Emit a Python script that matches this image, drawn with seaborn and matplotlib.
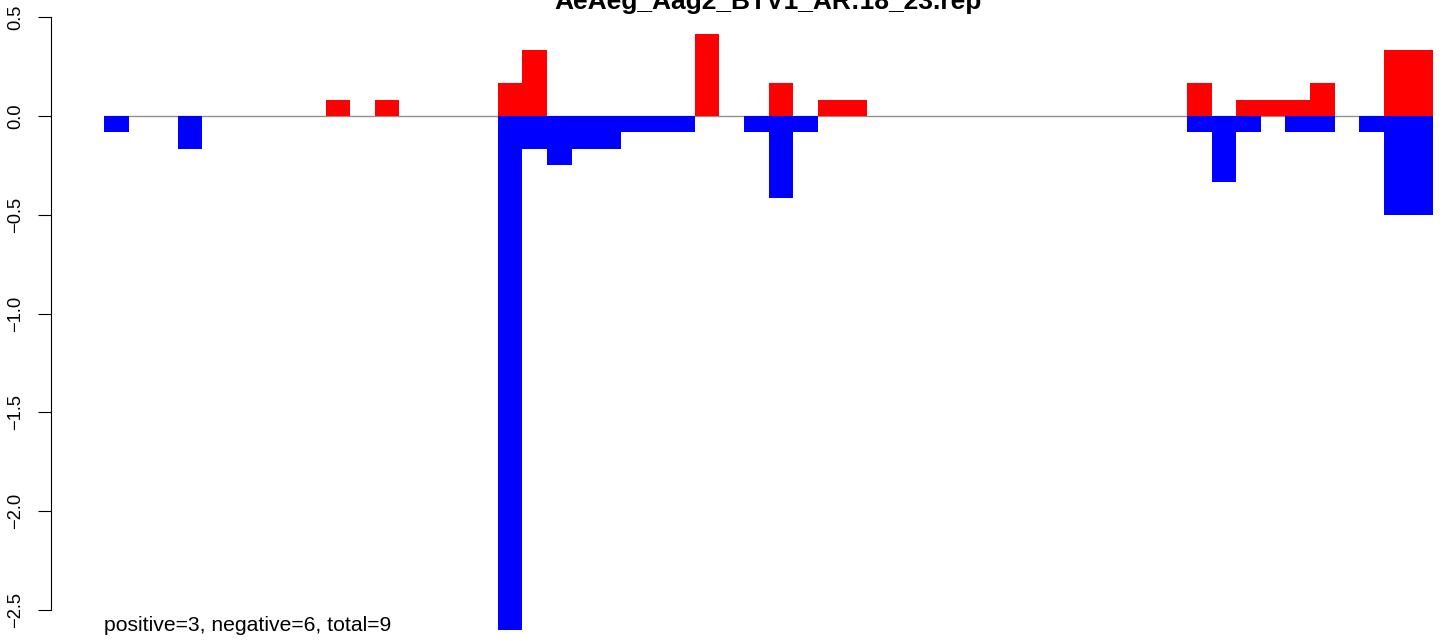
import matplotlib
matplotlib.use("Agg")
import matplotlib.pyplot as plt
import seaborn as sns
import numpy as np
import pandas as pd

# ---- data ----
n_pos = 54
positions = list(range(n_pos))
pos_idx = [9, 11, 16, 17, 24, 27, 29, 30, 44, 46, 47, 48, 49, 52, 53]
pos_val = [0.083, 0.083, 0.167, 0.333, 0.417, 0.167, 0.083, 0.083,
           0.167, 0.083, 0.083, 0.083, 0.167, 0.333, 0.333]
neg_idx = [0, 3, 16, 17, 18, 19, 20, 21, 22, 23, 26, 27, 28,
           44, 45, 46, 48, 49, 51, 52, 53]
neg_val = [-0.083, -0.167, -2.6, -0.167, -0.25, -0.167, -0.167, -0.083, -0.083, -0.083,
           -0.083, -0.417, -0.083,
           -0.083, -0.333, -0.083, -0.083, -0.083, -0.083, -0.5, -0.5]
title = "AeAeg_Aag2_BTV1_AR:18_23.rep"
note = "positive=3, negative=6, total=9"
yticks = [-2.5, -2.0, -1.5, -1.0, -0.5, 0.0, 0.5]
ytick_labels = ["\u22122.5", "\u22122.0", "\u22121.5", "\u22121.0", "\u22120.5", "0.0", "0.5"]

pos_full = np.zeros(n_pos)
pos_full[pos_idx] = pos_val
neg_full = np.zeros(n_pos)
neg_full[neg_idx] = neg_val
df = pd.DataFrame({"pos": positions, "up": pos_full, "down": neg_full})

sns.set_style("white")
plt.rcParams["font.family"] = ["Liberation Sans", "DejaVu Sans"]
plt.rcParams["text.color"] = "black"
plt.rcParams["ytick.color"] = "black"
plt.rcParams["ytick.labelcolor"] = "black"

W, H = 1444, 641
fig = plt.figure(figsize=(W / 100, H / 100), dpi=100)
x0, x1 = 104, 1433
ax = fig.add_axes([x0 / W, 0, (x1 - x0) / W, 1])
ax.patch.set_alpha(0)

ax.plot([-0.5, n_pos - 0.5], [0, 0], color="#909090", lw=1.0, zorder=0.5)

sns.barplot(data=df, x="pos", y="up", order=positions, color="#FF0000",
            saturation=1, width=1.0, errorbar=None, linewidth=0, ax=ax, zorder=2)
sns.barplot(data=df, x="pos", y="down", order=positions, color="#0000FF",
            saturation=1, width=1.0, errorbar=None, linewidth=0, ax=ax, zorder=2)

y0px = 116
ppu = 197.5
ax.set_xlim(-0.5, n_pos - 0.5)
ax.set_ylim(-(H - y0px) / ppu, y0px / ppu)

for s in ["top", "right", "bottom"]:
    ax.spines[s].set_visible(False)
ax.spines["left"].set_position(("outward", 53 * 0.72))
ax.spines["left"].set_bounds(-2.5, 0.5)
ax.spines["left"].set_linewidth(0.8)
ax.spines["left"].set_color("black")
ax.set_xticks([])
ax.set_xlabel("")
ax.set_ylabel("")
ax.set_yticks(yticks)
ax.set_yticklabels(ytick_labels, rotation=90, va="center", fontsize=13.2, color="black")
ax.tick_params(axis="y", length=9.4, width=0.8, pad=10, direction="out", color="black",
               left=True)

fig.text(768.5 / W, 1 - 9 / H, title, ha="center", va="baseline",
         fontsize=19, fontweight="bold", color="black")
fig.text(104 / W, 1 - 631 / H, note, ha="left", va="baseline", fontsize=15.2,
         color="black")

fig.savefig("out.png", dpi=100)
